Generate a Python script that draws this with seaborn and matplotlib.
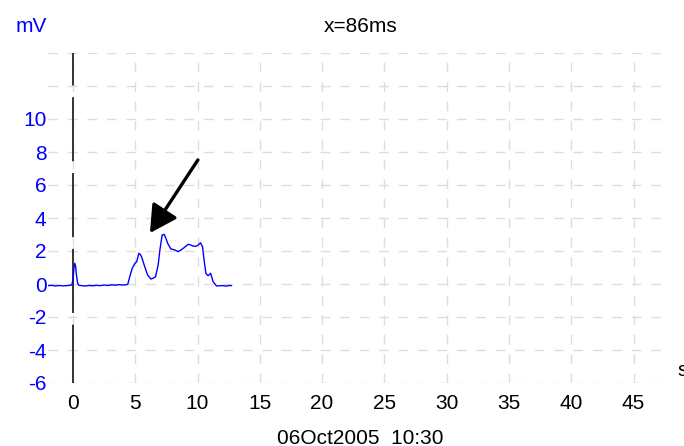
import matplotlib
matplotlib.use("Agg")
import matplotlib.pyplot as plt
import seaborn as sns
import pandas as pd
import numpy as np

# ---- data ----
time_s = [-2.0, -1.7, -1.4, -1.1, -0.8, -0.5, -0.25, -0.08, 0.02, 0.08, 0.15, 0.22,
          0.30, 0.38, 0.48, 0.7, 1.0, 1.3, 1.6, 1.9, 2.2, 2.5, 2.8, 3.1, 3.4, 3.7,
          4.0, 4.25, 4.4, 4.49, 4.6, 4.76, 4.97, 5.12, 5.29, 5.40, 5.51, 5.72, 5.99,
          6.26, 6.45, 6.63, 6.84, 6.98, 7.16, 7.32, 7.45, 7.6, 7.86, 8.02, 8.18, 8.45,
          8.65, 8.85, 9.05, 9.25, 9.45, 9.65, 9.85, 10.05, 10.24, 10.4, 10.51, 10.67,
          10.85, 11.05, 11.25, 11.53, 11.8, 12.06, 12.3, 12.5, 12.73]
voltage_mv = [-0.10, -0.08, -0.12, -0.09, -0.11, -0.10, -0.08, -0.05, 0.35, 0.95, 1.25, 1.05,
              0.45, 0.05, -0.08, -0.10, -0.12, -0.09, -0.11, -0.08, -0.10, -0.06, -0.09, -0.05,
              -0.07, -0.04, -0.06, -0.05, -0.02, 0.24, 0.55, 0.95, 1.25, 1.35, 1.86, 1.80,
              1.65, 1.15, 0.55, 0.30, 0.36, 0.44, 1.15, 2.06, 2.97, 3.01, 2.80, 2.47, 2.12,
              2.10, 2.06, 1.96, 2.05, 2.16, 2.28, 2.41, 2.36, 2.30, 2.28, 2.36, 2.50, 2.26,
              1.56, 0.65, 0.50, 0.65, 0.14, -0.12, -0.10, -0.10, -0.13, -0.09, -0.10]

x_ticks = [0, 5, 10, 15, 20, 25, 30, 35, 40, 45]
y_grid = [-6, -4, -2, 0, 2, 4, 6, 8, 10, 12, 14]
y_labels = ["-6", "-4", "-2", "0", "2", "4", "6", "8", "10", "", ""]
x_limits = (-2, 48)
y_limits = (-6, 14)
cursor_x = 0
arrow_tail = (10.03, 7.52)
arrow_head = (6.18, 3.09)
title_text = "x=86ms"
unit_text = "mV"
xunit_text = "s"
date_text = "06Oct2005  10:30"

sns.set_style("white")
plt.rcParams["font.family"] = ["Liberation Sans", "DejaVu Sans"]

fig = plt.figure(figsize=(6.84, 4.46), dpi=100)
ax = fig.add_axes([48 / 684, 1 - 383 / 446, (671 - 48) / 684, (383 - 53) / 446])

df = pd.DataFrame({"t": time_s, "v": voltage_mv})
sns.lineplot(data=df, x="t", y="v", ax=ax, color="#0000ff", linewidth=1.0, zorder=3)

ax.set_xlim(*x_limits)
ax.set_ylim(*y_limits)
ax.set_xticks(x_ticks)
ax.set_xticklabels([str(t) for t in x_ticks])
ax.set_yticks(y_grid)
ax.set_yticklabels(y_labels)
ax.grid(True, color="#dddddd", linestyle=(0, (7, 7)), linewidth=1.0)
ax.tick_params(axis="both", length=0, labelsize=15)
ax.tick_params(axis="y", colors="#0000ff", pad=1)
ax.tick_params(axis="x", colors="black", pad=8)
for sp in ax.spines.values():
    sp.set_visible(False)
ax.set_xlabel("")
ax.set_ylabel("")

ax.axvline(cursor_x, color="#333333", linewidth=1.4, linestyle=(3, (33, 6)), zorder=2)

ax.annotate("", xy=arrow_head, xytext=arrow_tail,
            arrowprops=dict(arrowstyle="-|>,head_length=0.55,head_width=0.3", color="black",
                            lw=2.4, mutation_scale=30, shrinkA=0, shrinkB=0))

fig.text(31 / 684, 1 - 27 / 446, unit_text, color="#0000ff", fontsize=15, ha="center", va="center")
fig.text(361 / 684, 1 - 27 / 446, title_text, color="black", fontsize=15, ha="center", va="center")
fig.text(677 / 684, 1 - 371 / 446, xunit_text, color="black", fontsize=15, ha="left", va="center")
fig.text(360 / 684, 1 - 438 / 446, date_text, color="black", fontsize=15, ha="center", va="center")

fig.savefig("out.png", dpi=100)
